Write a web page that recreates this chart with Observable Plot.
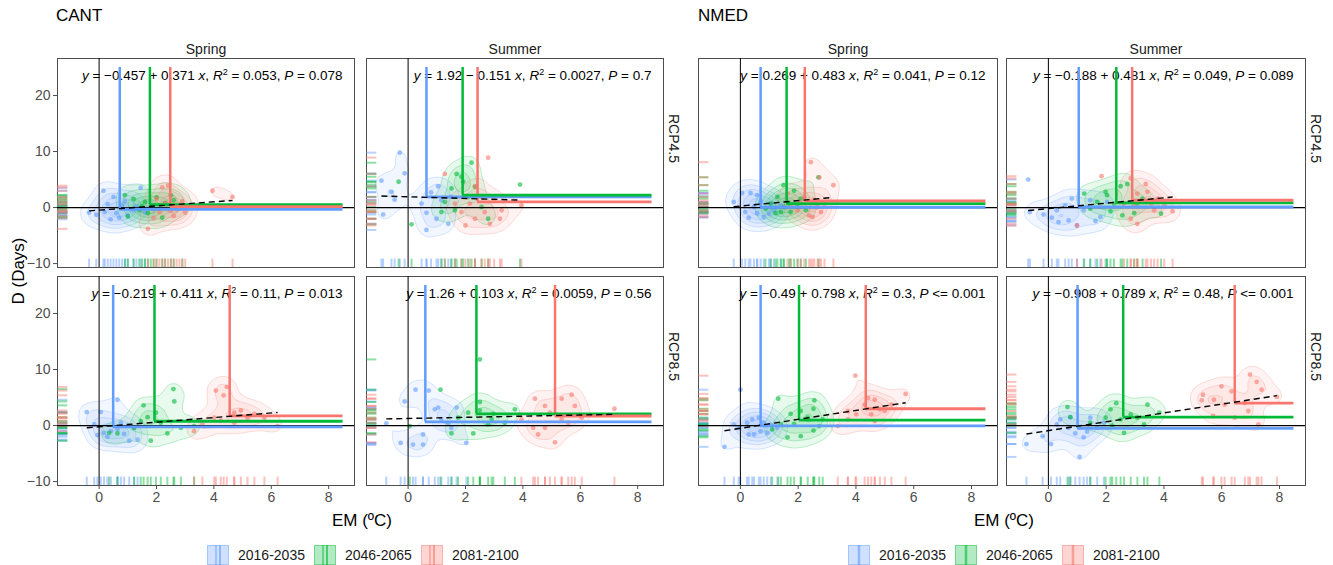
<!DOCTYPE html>
<html><head><meta charset="utf-8">
<script src="https://cdn.jsdelivr.net/npm/d3@7"></script>
<script src="https://cdn.jsdelivr.net/npm/@observablehq/plot@0.6"></script>
<style>
body{margin:0;background:#fff;font-family:"Liberation Sans",Arial,sans-serif;}
#root{position:relative;width:1333px;height:565px;overflow:hidden;background:#fff;}
.abs{position:absolute;white-space:nowrap;line-height:1;}
.leg{position:absolute;display:flex;align-items:center;font-size:14px;color:#1a1a1a;}
.leg span{margin:0 9px 0 9px;}
</style></head><body><div id="root"></div>
<script>
const periods = ["2016-2035","2046-2065","2081-2100"];
const periodColors = ["#619CFF","#00BA38","#F8766D"];
const seasons = ["Spring","Summer"];
const scenarios = ["RCP4.5","RCP8.5"];
const regions = ["CANT","NMED"];
const xTicks = [0,2,4,6,8];
const yTicks = [-10,0,10,20];
const xDomain = [-1.45, 8.9];
const yDomain = [-10.7, 26.6];
const meanTop = 25;
const meanRight = 8.5;

// ---- points [EM, D] ----
// CANT
const CANT_Spring_45_a = [[-0.35,-0.9],[0.15,3.0],[1.45,3.5],[0.5,1.9],[-0.1,-1.3],[0.2,-0.8],[0.4,-2.1],[0.6,-1.0],[0.8,0.4],[1.0,-1.4],[1.2,-0.5],[0.3,0.6],[0.9,1.1],[1.6,-0.9],[0.7,-1.8],[1.3,0.2]];
const CANT_Spring_45_b = [[0.9,2.2],[1.2,1.5],[1.5,0.3],[1.7,-1.0],[2.0,1.8],[2.3,0.8],[2.6,1.3],[2.9,0.4],[1.0,-1.6],[1.4,-0.5],[1.9,-0.2],[2.2,-1.8],[2.5,2.2],[1.6,1.0],[1.8,0.0]];
const CANT_Spring_45_c = [[2.2,3.6],[2.4,3.9],[1.7,-3.8],[2.1,-0.8],[2.6,-1.5],[2.8,0.5],[3.0,-0.9],[2.3,0.8],[2.0,1.6],[2.7,-0.3],[3.95,3.0],[4.65,1.9],[1.9,-1.9],[2.5,-0.6],[2.9,1.1]];
const CANT_Summer_45_a = [[-0.29,9.8],[-0.93,4.8],[-0.58,2.8],[-0.12,6.1],[-0.47,1.4],[-0.87,-1.25],[0.64,-0.95],[1.05,3.8],[0.8,2.7],[0.64,-4.0],[1.4,-2.9],[0.99,-2.0],[0.47,0.7],[1.16,1.3],[1.5,1.9]];
const CANT_Summer_45_b = [[2.21,8.0],[1.69,6.0],[-0.33,4.6],[0.12,-3.0],[3.9,4.1],[1.51,3.4],[1.86,5.5],[2.33,3.7],[1.28,1.0],[1.63,-0.5],[2.09,1.9],[2.56,0.1],[1.16,-0.8],[2.79,-2.0],[1.92,4.6]];
const CANT_Summer_45_c = [[2.79,8.9],[1.28,6.0],[2.33,3.8],[2.56,1.9],[2.15,0.7],[3.0,1.3],[3.2,-2.0],[2.33,-2.0],[2.85,-2.9],[1.86,-0.8],[3.95,0.4],[1.63,0.7],[3.26,-0.5],[2.67,-0.8],[2.0,-3.2]];
const CANT_Spring_85_a = [[-0.43,2.4],[0.06,2.4],[0.64,4.6],[-0.06,-1.7],[0.29,-2.0],[0.87,-1.5],[1.05,-2.7],[1.34,-2.5],[0.41,-1.0],[1.22,-0.4],[-0.17,0.2],[0.64,-0.7],[0.76,0.5],[0.17,-1.3]];
const CANT_Spring_85_b = [[0.35,-1.3],[0.64,-1.4],[1.55,3.6],[2.62,4.3],[2.59,6.5],[1.69,1.5],[1.98,2.3],[1.8,-2.7],[2.38,-1.4],[3.31,-0.1],[1.22,-0.4],[2.15,0.5],[1.45,0.8],[2.85,-0.4]];
const CANT_Spring_85_c = [[4.07,6.25],[4.34,5.4],[4.45,6.9],[4.71,2.3],[4.94,2.7],[4.24,0.9],[5.17,1.4],[5.76,1.4],[6.22,-0.1],[3.31,-1.0],[3.6,0.2],[4.01,1.4],[5.41,2.1],[4.71,0.5]];
const CANT_Summer_85_a = [[0.26,6.4],[0.72,6.25],[-0.12,4.3],[-0.76,0.4],[-0.26,-3.1],[0.17,-3.4],[0.52,-3.4],[0.52,-1.6],[0.93,2.9],[1.05,3.2],[1.69,3.2],[1.51,-0.4],[2.03,-3.1],[1.16,1.1],[1.4,0.4]];
const CANT_Summer_85_b = [[2.5,11.8],[1.13,6.4],[2.5,4.2],[2.5,2.7],[2.97,2.1],[3.72,2.9],[2.27,-1.4],[1.51,-1.4],[2.91,1.1],[3.37,0.5],[1.74,1.4],[0.06,-0.1],[2.09,2.3],[2.79,0.2]];
const CANT_Summer_85_c = [[4.42,4.8],[5.35,4.8],[5.7,5.5],[4.77,3.5],[4.94,2.3],[5.81,3.5],[7.19,3.0],[5.12,-3.0],[4.36,-0.4],[4.77,-0.4],[5.58,0.5],[6.05,1.4],[3.95,1.1],[5.35,1.1],[4.53,-1.6]];
// NMED
const NMED_Spring_45_a = [[0.06,2.6],[0.35,2.6],[0.58,2.2],[-0.23,1.0],[0.29,-1.8],[0.81,-1.7],[1.16,-0.5],[1.4,0.4],[0.47,0.1],[0.7,1.0],[0.99,-1.1],[0.17,-0.8],[0.58,-1.0],[1.05,0.7]];
const NMED_Spring_45_b = [[1.49,4.0],[1.86,3.0],[2.7,5.4],[0.87,-0.2],[1.22,-1.0],[1.4,-0.8],[1.69,0.7],[1.98,0.1],[1.74,-0.8],[1.28,1.9],[2.09,1.6],[1.51,0.1],[1.05,0.7],[2.27,-0.5]];
const NMED_Spring_45_c = [[2.44,8.1],[2.73,5.4],[3.22,4.0],[1.63,2.5],[2.56,1.3],[2.79,-0.8],[2.38,-1.4],[1.98,-0.5],[2.91,0.7],[2.09,1.0],[1.74,0.4],[2.67,0.1],[2.21,1.9],[2.5,-1.7]];
const NMED_Summer_45_a = [[-0.7,5.0],[-0.64,-0.8],[-0.17,-1.25],[0.12,-1.8],[0.35,-2.6],[0.7,-2.3],[0.99,-3.2],[1.63,-2.4],[0.58,0.4],[1.22,-0.5],[2.03,1.0],[1.45,1.3],[0.81,1.6],[1.8,-1.7],[0.29,-0.5]];
const NMED_Summer_45_b = [[1.24,2.5],[1.98,2.8],[2.03,2.2],[2.5,3.8],[2.73,4.2],[1.45,-0.2],[2.15,-0.7],[2.56,-1.4],[2.97,-1.0],[3.9,-1.1],[3.26,1.6],[2.27,0.7],[1.69,1.0],[3.08,0.7]];
const NMED_Summer_45_c = [[1.84,5.6],[2.85,5.2],[3.37,4.2],[3.43,2.8],[3.08,2.5],[3.78,1.6],[4.3,-0.7],[3.66,-0.5],[3.08,-2.9],[2.85,-2.0],[0.99,-3.2],[2.62,0.7],[3.55,0.7],[2.97,0.4],[4.01,0.4]];
const NMED_Spring_85_a = [[0.0,6.4],[-0.55,-3.8],[-0.06,-0.4],[0.29,-1.6],[0.47,-1.6],[0.81,0.5],[1.05,0.1],[0.7,-1.0],[0.23,0.5],[1.28,-0.4],[0.41,1.1],[0.93,-1.3],[0.64,1.4],[-0.23,0.2]];
const NMED_Spring_85_b = [[1.31,4.8],[2.56,4.5],[2.53,3.0],[1.74,2.1],[2.09,2.6],[1.63,-2.1],[2.09,-1.9],[2.53,-0.9],[2.85,1.1],[1.4,0.2],[1.86,0.3],[2.33,1.4],[1.1,-0.7],[2.73,-0.1]];
const NMED_Spring_85_c = [[3.98,8.9],[5.72,5.65],[3.37,-0.1],[3.72,1.1],[4.01,2.0],[4.65,0.8],[4.53,2.0],[4.83,2.9],[4.3,3.75],[4.65,4.6],[5.23,3.75],[5.0,2.6],[3.72,2.6],[4.42,4.9]];
const NMED_Summer_85_a = [[-0.76,-3.3],[-0.2,-1.9],[0.09,-3.3],[1.08,-5.6],[1.22,-2.1],[0.93,-1.4],[1.34,-1.1],[0.7,-0.4],[0.41,1.1],[0.76,1.5],[1.45,1.4],[1.92,0.5],[0.29,0.2],[1.69,-0.4]];
const NMED_Summer_85_b = [[0.66,3.3],[2.35,4.0],[3.43,3.75],[0.76,1.5],[2.62,-1.3],[2.21,0],[1.98,1.4],[2.85,2.0],[3.08,1.4],[3.84,2.3],[2.15,2.9],[2.5,1.1],[1.45,0.5],[3.31,0.2]];
const NMED_Summer_85_c = [[6.98,9.1],[5.99,7.0],[7.21,7.8],[7.91,5.1],[7.38,6.4],[5.35,5.5],[5.31,4.5],[5.73,4.6],[6.34,6.1],[6.1,3.75],[6.8,4.0],[5.7,1.7],[7.27,0.2],[6.45,1.4],[6.92,2.6]];

// ---- period means [EM, D], order: Spring45, Summer45, Spring85, Summer85 ----
const CANT_means = [
  [[0.72,-0.3],[1.77,0.5],[2.48,0.15]],
  [[0.64,1.9],[1.9,2.2],[2.42,1.0]],
  [[0.49,-0.24],[1.93,0.77],[4.55,1.73]],
  [[0.6,0.65],[2.38,2.1],[5.12,1.7]]
];
const NMED_means = [
  [[0.7,0.05],[1.6,0.7],[2.23,1.2]],
  [[1.05,0.1],[2.35,0.83],[2.9,1.3]],
  [[0.7,-0.05],[2.03,0.95],[4.34,3.0]],
  [[1.01,-0.5],[2.59,1.5],[6.45,4.0]]
];
// ---- regression fits ----
const CANT_intercepts = [-0.457, 1.92, -0.219, 1.26];
const CANT_slopes = [0.371, -0.151, 0.411, 0.103];
const CANT_r2 = ["0.053","0.0027","0.11","0.0059"];
const CANT_p = ["= 0.078","= 0.7","= 0.013","= 0.56"];
const NMED_intercepts = [0.269, -0.188, -0.49, -0.908];
const NMED_slopes = [0.483, 0.481, 0.798, 0.789];
const NMED_r2 = ["0.041","0.049","0.3","0.48"];
const NMED_p = ["= 0.12","= 0.089","<= 0.001","<= 0.001"];

const panelKeys = [["Spring","RCP4.5"],["Summer","RCP4.5"],["Spring","RCP8.5"],["Summer","RCP8.5"]];
const pointSets = {
  CANT: [[CANT_Spring_45_a,CANT_Spring_45_b,CANT_Spring_45_c],[CANT_Summer_45_a,CANT_Summer_45_b,CANT_Summer_45_c],[CANT_Spring_85_a,CANT_Spring_85_b,CANT_Spring_85_c],[CANT_Summer_85_a,CANT_Summer_85_b,CANT_Summer_85_c]],
  NMED: [[NMED_Spring_45_a,NMED_Spring_45_b,NMED_Spring_45_c],[NMED_Summer_45_a,NMED_Summer_45_b,NMED_Summer_45_c],[NMED_Spring_85_a,NMED_Spring_85_b,NMED_Spring_85_c],[NMED_Summer_85_a,NMED_Summer_85_b,NMED_Summer_85_c]]
};
const meanSets = {CANT: CANT_means, NMED: NMED_means};
const fitSets = {
  CANT: {a: CANT_intercepts, b: CANT_slopes, r2: CANT_r2, p: CANT_p},
  NMED: {a: NMED_intercepts, b: NMED_slopes, r2: NMED_r2, p: NMED_p}
};

function fmtEq(a, b, r2, p) {
  const as = a < 0 ? "\u2212" + Math.abs(a) : String(a);
  const bs = (b < 0 ? " \u2212 " : " + ") + Math.abs(b);
  return `y = ${as}${bs} x, R2 = ${r2}, P ${p}`;
}

function buildPlot(region, cfg) {
  const rows = [], means = [], fits = [];
  panelKeys.forEach(([s, r], i) => {
    pointSets[region][i].forEach((arr, k) => arr.forEach(([em, d]) => rows.push({s, r, period: periods[k], EM: em, D: d})));
    meanSets[region][i].forEach(([mx, my], k) => means.push({s, r, period: periods[k], mx, my}));
    const f = fitSets[region];
    const xs = pointSets[region][i].flat().map(d => d[0]);
    const x1 = d3.min(xs), x2 = d3.max(xs);
    fits.push({s, r, x1, x2, y1: f.a[i] + f.b[i] * x1, y2: f.a[i] + f.b[i] * x2,
      label: fmtEq(f.a[i], f.b[i], f.r2[i], f.p[i])});
  });
  const stripTop = seasons.map(s => ({s, r: scenarios[0]}));
  const stripRight = scenarios.map(r => ({s: seasons[1], r}));
  const marks = [
    Plot.frame({stroke: "#4d4d4d", strokeWidth: 1}),
    Plot.text(fits, {fx: "s", fy: "r", text: "label", frameAnchor: "top-right", dx: -12, dy: 12, textAnchor: "end", fontSize: 13.5, fill: "#000"}),
    Plot.density(rows, {fx: "s", fy: "r", x: "EM", y: "D", z: "period", fill: "period", stroke: "period", fillOpacity: 0.09, strokeOpacity: 0.3, strokeWidth: 0.8, bandwidth: 8, thresholds: 6}),
    Plot.dot(rows, {fx: "s", fy: "r", x: "EM", y: "D", fill: "period", r: 2.4, fillOpacity: 0.6}),
    Plot.ruleY(rows, {fx: "s", fy: "r", y: "D", x1: xDomain[0], x2: xDomain[0] + 0.36, stroke: "period", strokeOpacity: 0.45, strokeWidth: 2}),
    Plot.ruleX(rows, {fx: "s", fy: "r", x: "EM", y1: yDomain[0], y2: yDomain[0] + 1.5, stroke: "period", strokeOpacity: 0.45, strokeWidth: 2}),
    Plot.ruleX([0], {stroke: "#000", strokeWidth: 1}),
    Plot.ruleY([0], {stroke: "#000", strokeWidth: 1.2}),
    Plot.ruleX(means, {fx: "s", fy: "r", x: "mx", y1: "my", y2: meanTop, stroke: "period", strokeWidth: 2.5}),
    Plot.ruleY(means, {fx: "s", fy: "r", y: "my", x1: "mx", x2: meanRight, stroke: "period", strokeWidth: 2.8}),
    Plot.link(fits, {fx: "s", fy: "r", x1: "x1", y1: "y1", x2: "x2", y2: "y2", stroke: "#000", strokeWidth: 1.4, strokeDasharray: "6,4"}),
    Plot.text(stripTop, {fx: "s", fy: "r", text: "s", frameAnchor: "top", dy: -14, fontSize: 14, fill: "#1a1a1a"}),
    Plot.text(stripRight, {fx: "s", fy: "r", text: "r", frameAnchor: "right", dx: 10, rotate: 90, fontSize: 14, fill: "#1a1a1a"}),
    Plot.axisX({ticks: xTicks, label: null, tickSize: 4, tickPadding: 3, fontSize: 14, color: "#4d4d4d"})
  ];
  if (cfg.yAxis) marks.push(Plot.axisY({ticks: yTicks, label: null, tickSize: 4, tickPadding: 3, fontSize: 14, color: "#4d4d4d"}));
  const svg = Plot.plot({
    width: cfg.width, height: 515,
    marginLeft: cfg.ml, marginRight: 27, marginTop: 58, marginBottom: 30,
    style: {fontFamily: "'Liberation Sans', Arial, sans-serif", fontSize: "12px", background: "transparent", overflow: "visible"},
    x: {domain: xDomain},
    y: {domain: yDomain, axis: cfg.yAxis ? undefined : null},
    fx: {domain: seasons, paddingInner: cfg.pad, paddingOuter: 0, axis: null},
    fy: {domain: scenarios, paddingInner: 0.0413, paddingOuter: 0, axis: null},
    color: {domain: periods, range: periodColors},
    marks
  });
  const esc = t => t.replace(/&/g, "&amp;").replace(/</g, "&lt;").replace(/>/g, "&gt;");
  svg.querySelectorAll("text").forEach(t => {
    const c = t.textContent;
    if (c.startsWith("y = ")) {
      t.innerHTML = esc(c)
        .replace(/^y/, '<tspan font-style="italic">y</tspan>')
        .replace(" x,", ' <tspan font-style="italic">x</tspan>,')
        .replace("R2", '<tspan font-style="italic">R</tspan><tspan baseline-shift="super" font-size="9">2</tspan>')
        .replace(", P ", ', <tspan font-style="italic">P</tspan> ');
    }
  });
  return svg;
}

const root = document.getElementById("root");
function place(el, left, top) { el.style.position = "absolute"; el.style.left = left + "px"; el.style.top = top + "px"; root.appendChild(el); }
place(buildPlot("CANT", {width: 690, ml: 57, pad: 0.039, yAxis: true}), 0, 0);
place(buildPlot("NMED", {width: 643, ml: 8, pad: 0.029, yAxis: false}), 690, 0);

function label(text, x, y, size, rotate, anchorLeft) {
  const d = document.createElement("div");
  d.className = "abs"; d.textContent = text;
  d.style.fontSize = size + "px"; d.style.color = "#000";
  d.style.left = x + "px"; d.style.top = y + "px";
  d.style.transform = (anchorLeft ? "translate(0,-50%)" : "translate(-50%,-50%)") + (rotate ? ` rotate(${rotate}deg)` : "");
  root.appendChild(d);
}
label("CANT", 56, 15, 17, 0, true);
label("NMED", 698, 15, 17, 0, true);
label("EM (\u00baC)", 362, 520, 17);
label("EM (\u00baC)", 1004, 520, 17);
label("D (Days)", 18, 271, 17, -90);

function legend(x, twoLines) {
  const d = document.createElement("div");
  d.className = "leg"; d.style.left = x + "px"; d.style.top = "545px";
  periods.forEach((p, k) => {
    const c = periodColors[k];
    const lines = twoLines
      ? `<line x1="9" x2="9" y1="0" y2="20" stroke="${c}" stroke-opacity="0.45" stroke-width="2"/><line x1="13" x2="13" y1="0" y2="20" stroke="${c}" stroke-opacity="0.6" stroke-width="2"/>`
      : `<line x1="11" x2="11" y1="0" y2="20" stroke="${c}" stroke-opacity="0.6" stroke-width="2.5"/>`;
    d.insertAdjacentHTML("beforeend",
      `<svg width="22" height="20" style="display:block"><rect x="0.5" y="0.5" width="21" height="19" fill="${c}" fill-opacity="0.3" stroke="${c}" stroke-opacity="0.5"/>${lines}</svg><span>${p}</span>`);
  });
  root.appendChild(d);
}
legend(207, true);
legend(848, false);
</script></body></html>
